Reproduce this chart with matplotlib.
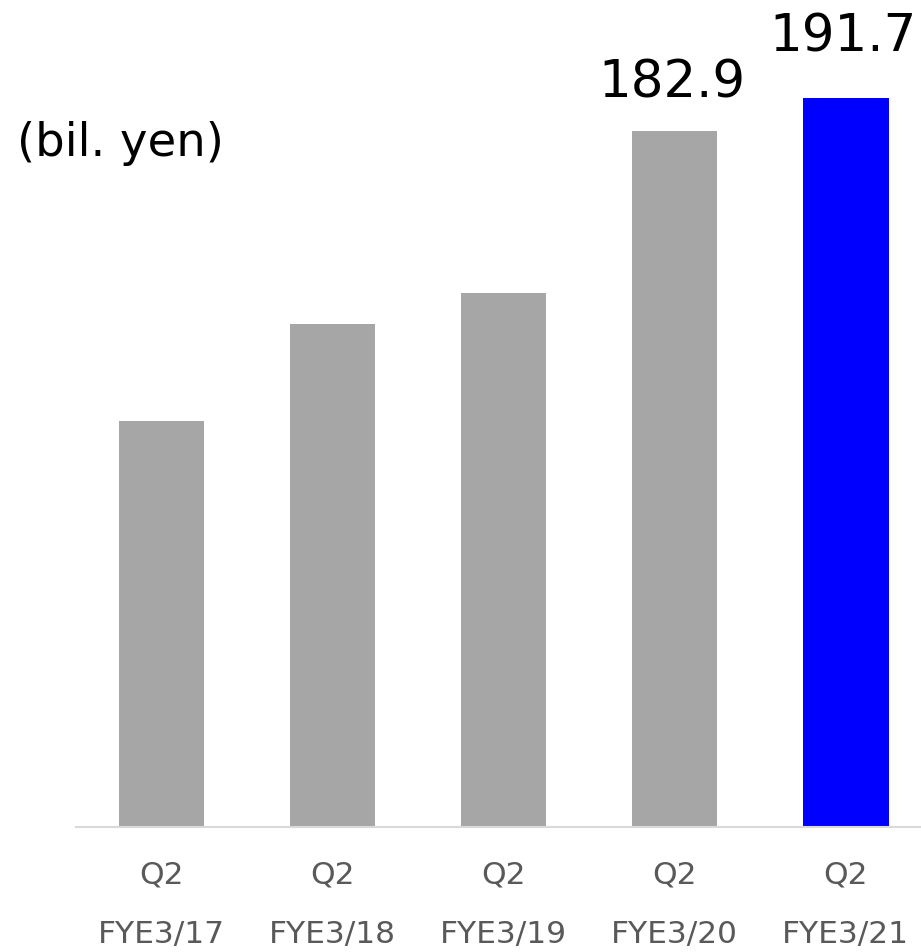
import matplotlib
matplotlib.use("Agg")
import matplotlib.pyplot as plt

categories = ["Q2\nFYE3/17", "Q2\nFYE3/18", "Q2\nFYE3/19", "Q2\nFYE3/20", "Q2\nFYE3/21"]
values = [106.8, 132.2, 140.4, 182.9, 191.7]
colors = ["#a6a6a6", "#a6a6a6", "#a6a6a6", "#a6a6a6", "#0000ff"]
labels = {3: "182.9", 4: "191.7"}
label_offsets_px = {3: 34, 4: 46}

W, H, DPI = 921, 952, 100
fig = plt.figure(figsize=(W / DPI, H / DPI), dpi=DPI)
plt.rcParams['font.family'] = ['DejaVu Sans']

base_y = 827
left_px = 76
ax = fig.add_axes([left_px / W, (H - base_y) / H, (W - left_px) / W, base_y / H])
x = list(range(len(values)))
ax.bar(x, values, width=0.5, color=colors, zorder=2)
ax.set_xlim(-0.5, 4.44)
ax.set_ylim(0, base_y / 3.8044)

for s in ["top", "right", "left"]:
    ax.spines[s].set_visible(False)
ax.spines["bottom"].set_color("#d9d9d9")
ax.spines["bottom"].set_linewidth(1.5)
ax.set_yticks([])
ax.set_xticks(x)
ax.set_xticklabels(categories, fontsize=22.5, color="#595959", linespacing=2.35)
ax.tick_params(axis="x", length=0, pad=24)

for i, t in labels.items():
    ax.annotate(t, (x[i], values[i]), xytext=(-2, label_offsets_px[i] * 72 / DPI),
                textcoords="offset points", ha="center", va="baseline",
                fontsize=37, color="#000000", annotation_clip=False)

fig.text(17 / W, 1 - 144 / H, "(bil. yen)", fontsize=33.5, color="#000000",
         ha="left", va="center")

fig.savefig("out.png", dpi=DPI)
